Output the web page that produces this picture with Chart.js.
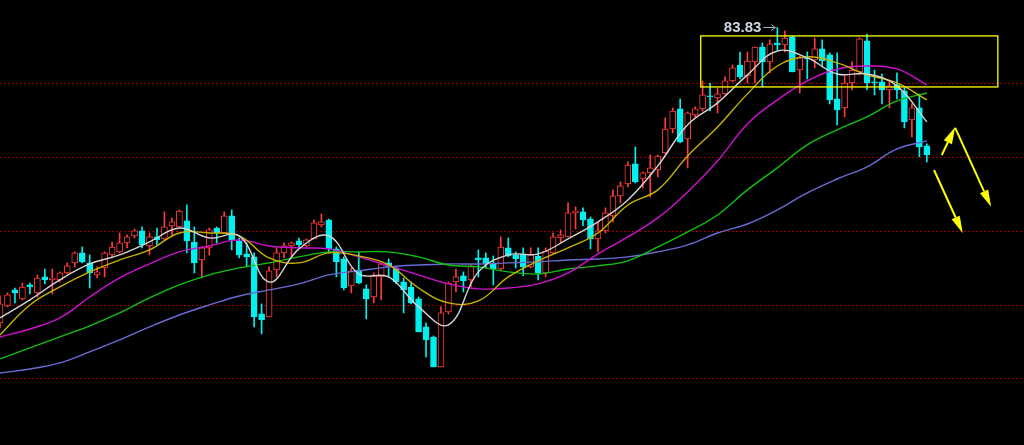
<!DOCTYPE html>
<html>
<head>
<meta charset="utf-8">
<script src="https://cdn.jsdelivr.net/npm/chart.js@4.4.0/dist/chart.umd.min.js"></script>
<style>
  html, body { margin: 0; padding: 0; background: #000; }
  #wrap { width: 1024px; height: 445px; position: relative; }
</style>
</head>
<body>
<div id="wrap"><canvas id="kline"></canvas></div>
<script>
// daily candles (price units)
const openPrices = [63.80,64.95,66.04,65.43,66.38,65.84,66.92,66.72,66.72,67.19,
  67.87,68.55,67.87,67.06,67.53,68.41,68.62,69.23,69.70,70.04,
  69.02,69.63,69.50,70.38,70.31,70.72,69.29,68.07,68.89,70.24,
  69.90,71.06,69.36,68.48,68.28,64.41,64.21,67.39,68.55,69.02,
  69.36,69.02,69.50,70.45,70.78,68.82,68.14,66.31,67.39,66.11,
  65.56,66.92,67.87,67.53,66.58,66.24,65.43,63.53,62.85,60.82,
  64.55,66.58,66.99,66.72,68.21,68.21,67.80,67.46,68.89,68.41,
  68.48,67.60,68.34,67.19,68.55,69.56,69.63,71.26,71.33,70.85,
  69.50,70.04,71.06,72.41,73.23,74.58,73.56,73.97,74.17,75.33,
  76.95,78.31,76.28,77.90,78.31,79.19,79.06,79.33,80.21,81.29,
  80.55,81.50,82.51,81.50,82.78,82.65,83.19,80.95,81.77,81.63,
  82.38,81.97,78.99,78.38,80.07,80.82,82.92,80.14,80.14,79.60,
  79.94,79.53,77.56,78.38,75.80];
const highPrices = [65.63,65.84,66.17,66.51,66.51,67.06,67.46,67.46,67.26,67.87,
  68.62,68.95,68.41,67.60,68.62,69.29,69.90,69.77,70.17,70.31,
  69.90,70.24,71.33,70.92,71.46,71.80,70.31,68.95,70.24,70.31,
  71.33,71.46,69.56,69.23,68.55,65.09,67.60,68.89,69.23,69.29,
  69.56,69.50,70.78,71.19,70.85,68.95,68.28,67.53,68.62,66.38,
  67.19,67.87,68.14,67.60,66.85,66.58,65.56,63.80,62.92,64.89,
  66.58,67.46,67.26,67.73,68.75,68.55,68.34,69.63,69.56,68.62,
  68.89,68.89,68.89,68.89,69.90,70.11,71.94,71.67,71.60,70.99,
  70.58,71.60,72.82,73.36,74.72,75.73,74.04,75.19,75.19,77.70,
  78.38,78.99,78.11,78.45,80.21,80.07,79.73,80.48,81.29,82.17,
  82.17,82.51,82.78,82.99,83.83,83.60,83.26,81.90,82.17,83.12,
  82.99,82.11,82.11,80.55,81.50,83.12,83.39,80.95,80.68,80.21,
  80.75,79.73,78.65,79.33,75.94];
const lowPrices = [63.46,64.89,65.16,65.36,65.77,65.56,66.45,65.77,66.58,67.12,
  67.60,67.87,66.17,66.85,66.92,68.21,68.55,68.89,69.56,68.89,
  68.41,69.09,69.43,69.77,70.31,68.55,67.19,66.85,68.41,69.23,
  69.90,68.75,68.21,67.60,63.53,63.06,64.21,66.92,68.21,68.28,
  68.95,68.95,69.50,70.31,68.55,66.92,66.04,65.84,66.45,64.07,
  65.16,65.36,66.92,66.45,64.48,65.09,63.19,61.50,60.82,60.82,
  64.41,65.90,65.90,66.24,66.92,67.53,66.38,67.33,68.28,67.53,
  66.99,67.53,66.72,66.92,68.48,69.23,69.63,70.17,70.38,68.82,
  68.62,69.90,70.65,71.94,73.02,73.29,72.95,72.34,73.70,75.26,
  76.68,76.01,74.31,77.77,78.17,78.17,78.04,79.26,80.14,80.34,
  80.07,80.07,79.80,80.75,82.31,82.17,80.82,79.39,80.34,81.09,
  81.16,78.65,77.23,77.77,79.60,80.62,79.60,79.26,78.65,78.38,
  78.99,77.02,76.41,75.06,74.72];
const closePrices = [65.09,65.70,65.84,66.24,66.24,66.85,66.72,66.85,67.19,67.67,
  68.55,67.94,67.19,67.26,68.55,68.95,69.23,69.63,70.04,69.09,
  69.63,69.43,70.31,70.65,71.39,69.36,67.87,68.89,70.11,69.90,
  71.06,69.43,68.41,68.28,64.21,64.01,67.33,68.55,69.02,69.23,
  69.09,69.43,70.58,70.65,68.82,67.94,66.17,67.33,66.51,65.43,
  66.99,67.80,67.60,66.58,66.04,65.16,63.19,62.65,60.82,64.48,
  66.51,66.92,66.65,67.67,68.07,67.80,67.46,68.95,68.34,68.14,
  67.60,68.41,67.19,68.68,69.63,69.77,71.26,71.39,70.78,69.50,
  70.04,71.26,72.41,73.09,74.51,73.36,73.97,74.31,75.12,76.95,
  78.17,76.07,78.04,78.31,79.26,79.12,79.33,80.21,81.09,80.48,
  81.56,82.51,81.50,82.72,82.65,83.12,80.82,81.77,81.70,82.38,
  81.56,78.92,78.24,80.07,80.95,83.06,80.07,80.07,79.60,79.87,
  79.60,77.43,78.38,75.73,75.19];

// moving average lines, read every 4th candle
const maIndex = [0,4,8,12,16,20,24,28,32,36,40,44,48,52,56,60,64,68,72,76,80,84,88,92,96,100,104,108,112,116,120,124];
const ma5 = [64.14,65.36,66.72,67.80,68.41,69.29,70.24,69.56,69.70,66.58,68.82,69.70,67.12,66.92,64.89,63.67,67.26,68.41,68.48,69.50,70.65,72.14,74.45,77.23,78.72,80.62,82.24,81.77,80.68,80.68,79.87,77.43];
const ma10 = [62.99,65.02,66.24,67.26,68.07,68.75,69.90,69.90,69.70,68.21,67.87,68.55,68.34,67.73,66.17,65.16,65.29,66.92,68.01,68.89,69.90,71.80,72.82,75.12,77.09,79.33,81.22,81.84,81.43,80.62,80.07,78.92];
const ma20 = [62.85,63.39,64.14,65.56,66.85,67.80,68.62,69.02,69.43,69.02,68.89,68.82,68.28,67.67,67.06,66.45,66.11,66.17,66.45,67.19,68.48,69.63,70.92,72.68,74.78,77.29,78.92,80.21,81.02,81.22,81.02,79.94];
const ma30 = [61.36,62.11,62.85,63.60,64.48,65.50,66.38,67.06,67.53,67.87,68.28,68.62,68.62,68.62,68.28,67.73,67.60,67.26,67.12,67.46,67.67,68.01,68.95,69.97,71.12,72.82,74.31,75.87,76.89,77.77,78.85,79.39];
const ma60 = [60.41,60.68,61.09,61.84,62.65,63.53,64.34,65.02,65.63,66.04,66.45,67.06,67.33,67.60,67.73,67.80,67.80,67.87,67.94,68.07,68.14,68.28,68.62,69.09,69.90,70.51,71.46,72.62,73.56,74.38,75.60,76.14];

const gridLevels = [60, 65, 70, 75, 80];
const peakIndex = 104;
const peakLabel = "83.83";

const RED = "#ff3b3b";
const CYAN = "#00f0f0";
const YELLOW = "#ffff00";

// empty slots on the right (space for the drawn arrows)
const blankSlots = 13;
const labels = openPrices.map((_, i) => i + 1).concat(new Array(blankSlots).fill(""));

const isUp = closePrices.map((c, i) => c > openPrices[i]);

function spread(values) {
  const out = new Array(openPrices.length).fill(null);
  maIndex.forEach((idx, k) => { out[idx] = values[k]; });
  return out;
}

function maLine(values, color) {
  return {
    type: "line",
    data: spread(values),
    borderColor: color,
    borderWidth: 1.4,
    pointRadius: 0,
    spanGaps: true,
    tension: 0.4,
    order: 1,
  };
}

function drawArrow(ctx, x1, y1, x2, y2) {
  const ang = Math.atan2(y2 - y1, x2 - x1);
  const headLen = 17, headHalf = 4.5;
  const bx = x2 - headLen * Math.cos(ang);
  const by = y2 - headLen * Math.sin(ang);
  ctx.beginPath();
  ctx.moveTo(x1, y1);
  ctx.lineTo(bx, by);
  ctx.stroke();
  ctx.beginPath();
  ctx.moveTo(x2, y2);
  ctx.lineTo(bx + headHalf * Math.sin(ang), by - headHalf * Math.cos(ang));
  ctx.lineTo(bx - headHalf * Math.sin(ang), by + headHalf * Math.cos(ang));
  ctx.closePath();
  ctx.fill();
}

// box and arrows, in candle-index / price units
const topBox = { x0: 93.75, x1: 133.5, y0: 79.80, y1: 83.26 };
const arrows = [
  [126.0, 75.19, 127.8, 77.09],
  [127.8, 77.02, 132.6, 71.67],
  [124.96, 74.17, 128.8, 69.90],
];

const overlay = {
  id: "overlay",
  afterDatasetsDraw(chart) {
    const { ctx, scales: { x, y } } = chart;
    ctx.save();

    // highlight box
    ctx.strokeStyle = YELLOW;
    ctx.lineWidth = 1.3;
    const bx0 = x.getPixelForValue(topBox.x0), bx1 = x.getPixelForValue(topBox.x1);
    const by0 = y.getPixelForValue(topBox.y1), by1 = y.getPixelForValue(topBox.y0);
    ctx.strokeRect(bx0, by0, bx1 - bx0, by1 - by0);

    // arrows
    ctx.fillStyle = YELLOW;
    ctx.lineWidth = 2;
    arrows.forEach(a => {
      drawArrow(ctx, x.getPixelForValue(a[0]), y.getPixelForValue(a[1]),
        x.getPixelForValue(a[2]), y.getPixelForValue(a[3]));
    });

    // peak label
    const px = x.getPixelForValue(peakIndex);
    const py = y.getPixelForValue(highPrices[peakIndex]);
    ctx.font = "bold 15px 'Liberation Sans', Arial, sans-serif";
    ctx.fillStyle = "#cfd6e4";
    ctx.textAlign = "right";
    ctx.textBaseline = "middle";
    ctx.fillText(peakLabel, px - 16, py + 0.5);
    ctx.strokeStyle = "#a9b0bd";
    ctx.lineWidth = 1;
    ctx.beginPath();
    ctx.moveTo(px - 14, py);
    ctx.lineTo(px - 2, py);
    ctx.moveTo(px - 6, py - 3);
    ctx.lineTo(px - 2, py);
    ctx.lineTo(px - 6, py + 3);
    ctx.stroke();

    ctx.restore();
  },
};

new Chart(document.getElementById("kline"), {
  type: "bar",
  data: {
    labels: labels,
    datasets: [
      maLine(ma5, "#d4d4d4"),
      maLine(ma10, "#c8b400"),
      maLine(ma20, "#d010d0"),
      maLine(ma30, "#10c010"),
      maLine(ma60, "#6a6ad4"),
      {
        label: "body",
        data: openPrices.map((o, i) => [o, closePrices[i]]),
        backgroundColor: isUp.map(u => (u ? "#000000" : CYAN)),
        borderColor: isUp.map(u => (u ? RED : CYAN)),
        borderWidth: 1,
        borderSkipped: false,
        barThickness: 6,
        grouped: false,
        order: 2,
      },
      {
        label: "wick",
        data: lowPrices.map((l, i) => [l, highPrices[i]]),
        backgroundColor: isUp.map(u => (u ? RED : CYAN)),
        borderWidth: 0,
        barThickness: 1,
        grouped: false,
        order: 3,
      },
    ],
  },
  options: {
    responsive: true,
    maintainAspectRatio: false,
    animation: false,
    layout: { padding: 0 },
    plugins: { legend: { display: false }, tooltip: { enabled: false } },
    scales: {
      x: {
        type: "category",
        offset: false,
        display: false,
      },
      y: {
        min: 55.525,
        max: 85.695,
        afterBuildTicks: (axis) => {
          axis.ticks = gridLevels.map(v => ({ value: v }));
        },
        afterFit: (axis) => {
          axis.width = 0;
        },
        ticks: { display: false },
        grid: { color: "#a00000", lineWidth: 1, drawTicks: false },
        border: { display: false, dash: [2, 2] },
      },
    },
  },
  plugins: [overlay],
});
</script>
</body>
</html>
